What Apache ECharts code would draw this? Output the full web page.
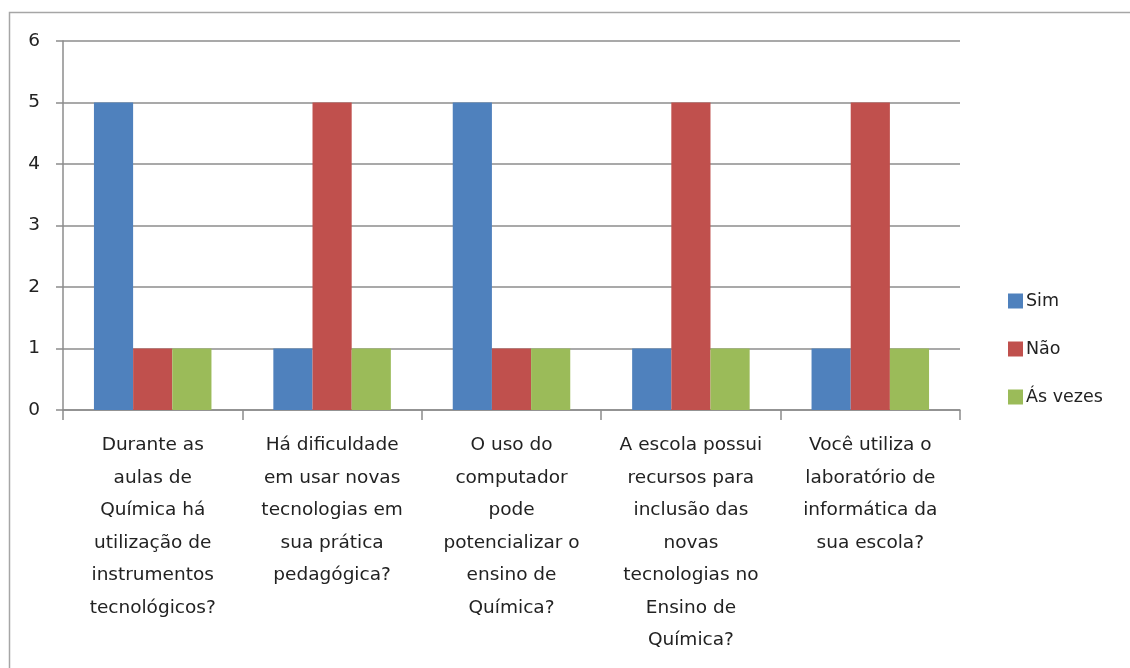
<!DOCTYPE html>
<html>
<head>
<meta charset="utf-8">
<script src="https://cdn.jsdelivr.net/npm/echarts@6/dist/echarts.min.js"></script>
<style>html,body{margin:0;padding:0;background:#fff;}#c{width:1130px;height:668px;}</style>
</head>
<body>
<div id="c"></div>
<script>
var categories = [
  "Durante as\naulas de\nQuímica há\nutilização de\ninstrumentos\ntecnológicos?",
  "Há dificuldade\nem usar novas\ntecnologias em\nsua prática\npedagógica?",
  "O uso do\ncomputador\npode\npotencializar o\nensino de\nQuímica?",
  "A escola possui\nrecursos para\ninclusão das\nnovas\ntecnologias no\nEnsino de\nQuímica?",
  "Você utiliza o\nlaboratório de\ninformática da\nsua escola?"
];
var simValues = [5, 1, 5, 1, 1];
var naoValues = [1, 5, 1, 5, 5];
var asVezesValues = [1, 1, 1, 1, 1];
var seriesNames = ["Sim", "Não", "Ás vezes"];

var FONT = "DejaVu Sans";
var chart = echarts.init(document.getElementById('c'), null, {renderer: 'canvas'});
chart.setOption({
  animation: false,
  backgroundColor: '#ffffff',
  color: ['#4F81BD', '#C0504D', '#9BBB59'],
  graphic: [{
    type: 'rect', silent: true, z: -1,
    shape: {x: 9.5, y: 12.5, width: 1200, height: 700},
    style: {fill: 'none', stroke: '#a6a6a6', lineWidth: 1.5}
  }],
  grid: {left: 63, right: 170, top: 41, bottom: 258, containLabel: false},
  legend: {
    orient: 'vertical', left: 1003, top: 286,
    itemWidth: 15, itemHeight: 15, itemGap: 28,
    icon: 'rect',
    textStyle: {fontFamily: FONT, fontSize: 17.5, color: '#222', lineHeight: 20, padding: [0,0,0,-2]},
    data: seriesNames
  },
  xAxis: {
    type: 'category', data: categories,
    axisLine: {show: true, lineStyle: {color: '#8c8c8c', width: 1.5}},
    axisTick: {show: true, length: 10, lineStyle: {color: '#8c8c8c', width: 1.5}},
    axisLabel: {interval: 0, margin: 19, fontFamily: FONT, fontSize: 18.5, lineHeight: 32.5, color: '#222', align: 'center'}
  },
  yAxis: {
    type: 'value', min: 0, max: 6, interval: 1,
    axisLine: {show: true, lineStyle: {color: '#8c8c8c', width: 1.5}},
    axisTick: {show: true, length: 7, lineStyle: {color: '#8c8c8c', width: 1.5}},
    axisLabel: {margin: 23, fontFamily: FONT, fontSize: 18.5, color: '#222'},
    splitLine: {show: true, lineStyle: {color: '#8c8c8c', width: 1.5}}
  },
  series: [
    {name: seriesNames[0], type: 'bar', data: simValues, barGap: '0%', barCategoryGap: '34.5%'},
    {name: seriesNames[1], type: 'bar', data: naoValues, barGap: '0%', barCategoryGap: '34.5%'},
    {name: seriesNames[2], type: 'bar', data: asVezesValues, barGap: '0%', barCategoryGap: '34.5%'}
  ]
});
</script>
</body>
</html>
